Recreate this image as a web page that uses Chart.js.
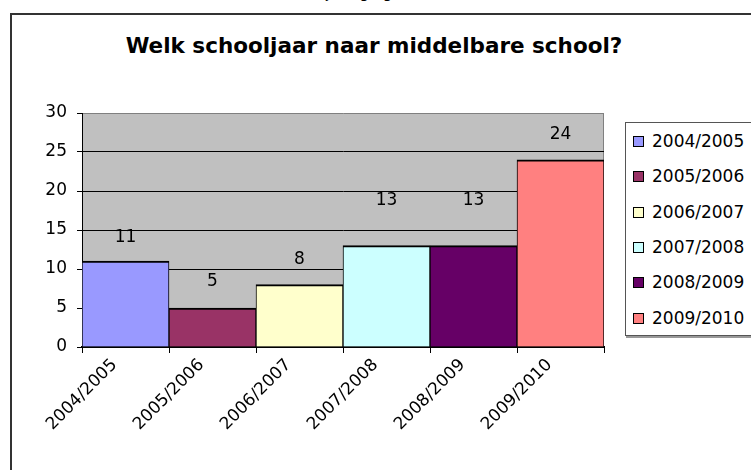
<!DOCTYPE html>
<html>
<head>
<meta charset="utf-8">
<script src="https://cdn.jsdelivr.net/npm/chart.js@4"></script>
<style>
  body { margin: 0; width: 751px; height: 470px; overflow: hidden; background: #fff; position: relative; font-family: "DejaVu Sans", sans-serif; }
  #cut { position: absolute; left: 326px; top: -14px; font-size: 15px; line-height: 15px; white-space: nowrap; }
  #frame { position: absolute; left: 10px; top: 13px; width: 800px; height: 500px; border: 2px solid #333; }
  #title { position: absolute; left: 0; width: 748px; top: 33px; text-align: center; font-weight: bold; font-size: 21.5px; }
  #wrap { position: absolute; left: 0; top: 90px; width: 620px; height: 380px; }
  #legend { position: absolute; left: 625px; top: 122px; width: 150px; height: 212px; border: 1px solid #555; box-shadow: 1px 2px 0 #999; background: #fff; }
  .item { position: absolute; left: 7px; height: 20px; line-height: 20px; font-size: 17px; white-space: nowrap; }
  .item span { display: inline-block; width: 9px; height: 9px; border: 1px solid #000; margin-right: 8px; vertical-align: 0px; }
</style>
</head>
<body>
<div id="cut">jaar ging</div>
<div id="frame"></div>
<div id="title">Welk schooljaar naar middelbare school?</div>
<div id="wrap"><canvas id="chart"></canvas></div>
<div id="legend"></div>
<script>
// data
const years = ['2004/2005', '2005/2006', '2006/2007', '2007/2008', '2008/2009', '2009/2010'];
const counts = [11, 5, 8, 13, 13, 24];
const yTicks = [0, 5, 10, 15, 20, 25, 30];
const barColors = ['#9999FF', '#993366', '#FFFFCC', '#CCFFFF', '#660066', '#FF8080'];
// how far each value label sits above its bar (px)
const labelGap = [24, 26, 25, 45, 45, 25];

const fontMain = { family: 'DejaVu Sans', size: 17 };

// legend (html)
const legendBox = document.getElementById('legend');
years.forEach((y, i) => {
    const d = document.createElement('div');
    d.className = 'item';
    d.style.top = (8 + i * 35.3) + 'px';
    d.innerHTML = '<span style="background:' + barColors[i] + '"></span>' + y;
    legendBox.appendChild(d);
});

// plot background + right edge
const plotBg = {
    id: 'plotBg',
    beforeDraw(chart) {
        const a = chart.chartArea, c = chart.ctx;
        c.save();
        c.fillStyle = '#C0C0C0';
        c.fillRect(a.left, a.top, a.right - a.left, a.bottom - a.top);
        c.strokeStyle = '#808080';
        c.lineWidth = 1;
        c.beginPath();
        c.moveTo(a.right - 0.5, a.top);
        c.lineTo(a.right - 0.5, a.bottom);
        c.stroke();
        c.restore();
    }
};

// value labels above the bars
const valueLabels = {
    id: 'valueLabels',
    afterDatasetsDraw(chart) {
        const c = chart.ctx;
        const meta = chart.getDatasetMeta(0);
        c.save();
        c.font = '17px "DejaVu Sans"';
        c.fillStyle = '#000';
        c.textAlign = 'center';
        c.textBaseline = 'middle';
        meta.data.forEach((bar, i) => {
            c.fillText(String(counts[i]), bar.x, bar.y - labelGap[i]);
        });
        c.restore();
    }
};

new Chart(document.getElementById('chart'), {
    type: 'bar',
    data: {
        labels: years,
        datasets: [{
            data: counts,
            backgroundColor: barColors,
            borderColor: '#000',
            borderWidth: { top: 2, left: 1, right: 1, bottom: 0 },
            borderSkipped: false,
            categoryPercentage: 1,
            barPercentage: 1
        }]
    },
    options: {
        responsive: true,
        maintainAspectRatio: false,
        animation: false,
        layout: { padding: { top: 23, right: 16, left: 0, bottom: 0 } },
        plugins: {
            legend: { display: false },
            title: { display: false },
            tooltip: { enabled: false }
        },
        scales: {
            x: {
                grid: {
                    offset: true,
                    drawOnChartArea: false,
                    tickLength: 6,
                    color: '#000'
                },
                border: { color: '#000', width: 2 },
                ticks: {
                    color: '#000',
                    font: fontMain,
                    minRotation: 45,
                    maxRotation: 45,
                    padding: 2,
                    labelOffset: -11
                },
                afterFit(scale) { scale.height = 123; }
            },
            y: {
                min: 0,
                max: 30,
                afterBuildTicks(scale) { scale.ticks = yTicks.map(v => ({ value: v })); },
                grid: {
                    color: ctx => (ctx.tick && ctx.tick.value === 30) ? '#808080' : '#000',
                    tickColor: '#000',
                    tickLength: 5
                },
                border: { color: '#000', width: 1 },
                ticks: {
                    color: '#000',
                    font: fontMain,
                    padding: 10
                },
                afterFit(scale) { scale.width = 82; }
            }
        }
    },
    plugins: [plotBg, valueLabels]
});
</script>
</body>
</html>
